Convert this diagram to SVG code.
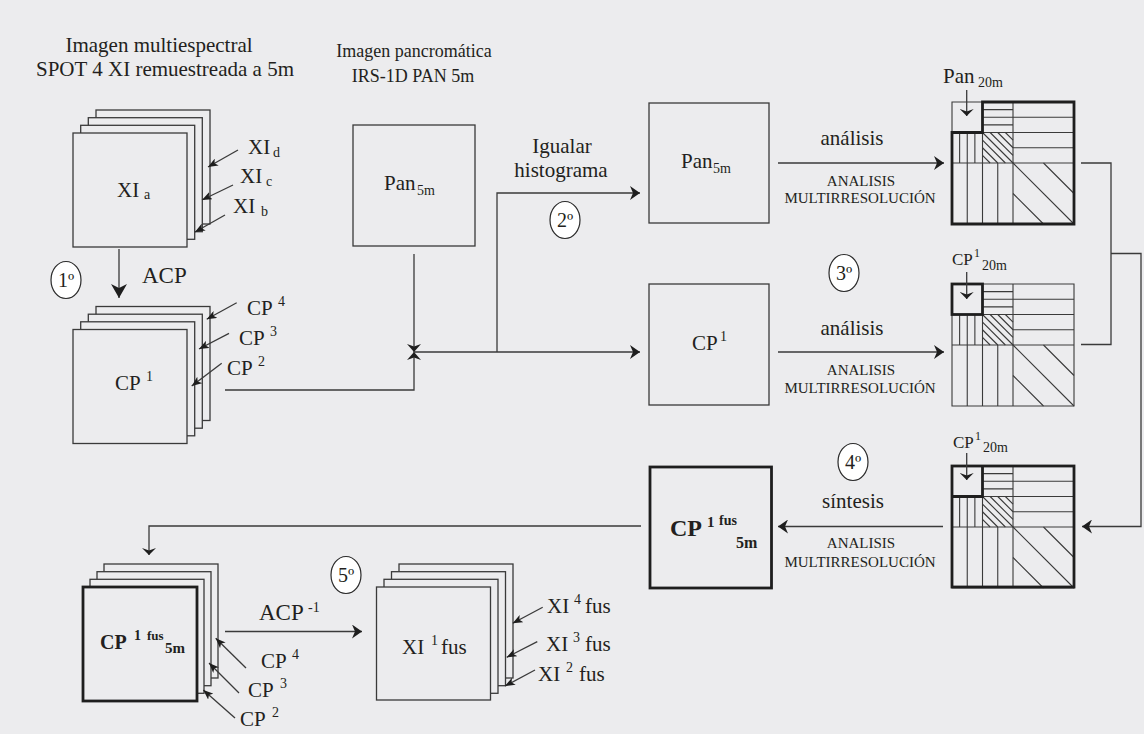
<svg xmlns="http://www.w3.org/2000/svg" xmlns:xlink="http://www.w3.org/1999/xlink" width="1144" height="734" viewBox="0 0 1144 734">
<style>
text{font-family:"Liberation Serif","Times New Roman",serif;fill:#231f20;font-size:21px}
.mid{text-anchor:middle}
.sm{font-size:14px}
.cap{font-size:15px}
.b{font-weight:bold}
.ln{stroke:#3a3a3a;stroke-width:1.3;fill:none}
.box{fill:#ECECEE;stroke:#3a3a3a;stroke-width:1.3}
.bold{stroke:#1e1e1e;stroke-width:2.8;fill:none}
.boldbox{fill:#ECECEE;stroke:#1e1e1e;stroke-width:2.8}
.ell{fill:#FFFFFF;stroke:#2a2a2a;stroke-width:1.2}
.gl{stroke:#3a3a3a;stroke-width:1.1;fill:none}
</style>
<defs>
<marker id="arr" markerUnits="userSpaceOnUse" markerWidth="10" markerHeight="14" refX="10" refY="7" orient="auto" viewBox="0 0 10 14"><path d="M0,0 L10,7 L0,14 L3,7 Z" fill="#1e1e1e"/></marker>
<marker id="big" markerUnits="userSpaceOnUse" markerWidth="14" markerHeight="16" refX="14" refY="8" orient="auto" viewBox="0 0 14 16"><path d="M0,0 L14,8 L0,16 L4,8 Z" fill="#1e1e1e"/></marker>
<marker id="lab" markerUnits="userSpaceOnUse" markerWidth="10" markerHeight="8" refX="10" refY="4" orient="auto" viewBox="0 0 10 8"><path d="M0,0 L10,4 L0,8 L2.5,4 Z" fill="#1e1e1e"/></marker>
<marker id="chev" markerUnits="userSpaceOnUse" markerWidth="7" markerHeight="14" refX="7" refY="7" orient="auto" viewBox="0 0 7 14"><path d="M0,0 L7,7 L0,14 L2.5,7 Z" fill="#1e1e1e"/></marker>
<marker id="jn" markerUnits="userSpaceOnUse" markerWidth="8" markerHeight="14" refX="8" refY="7" orient="auto" viewBox="0 0 8 14"><path d="M0,0 L8,7 L0,14 L2.5,7 Z" fill="#1e1e1e"/></marker>
<g id="grid">
<path class="gl" d="M0,0 H122 V122 H0 Z M61,0 V122 M0,61 H122 M30.5,0 V122 M0,30.5 H122 M30.5,15.25 H122 M30.5,7.625 H61 M30.5,22.875 H61 M61,45.75 H122 M15.25,30.5 V122 M7.625,30.5 V61 M22.875,30.5 V61 M45.75,61 V122"/>
<path class="gl" d="M30.5,30.5 L61,61 M38.125,30.5 L61,53.375 M45.75,30.5 L61,45.75 M53.375,30.5 L61,38.125 M30.5,38.125 L53.375,61 M30.5,45.75 L45.75,61 M30.5,53.375 L38.125,61 M61,61 L122,122 M91.5,61 L122,91.5 M61,91.5 L91.5,122"/>
</g>
</defs>
<rect x="0" y="0" width="1144" height="734" fill="#ECECEE"/>

<g id="title-multiespectral">
<text class="mid" x="159" y="52">Imagen multiespectral</text>
<text class="mid" x="165" y="76">SPOT 4 XI remuestreada a 5m</text>
</g>
<g id="title-pancromatica">
<text class="mid" x="414" y="57" style="font-size:18px">Imagen pancromática</text>
<text class="mid" x="413" y="82" style="font-size:18px">IRS-1D PAN 5m</text>
</g>

<g id="stack-xi">
<rect class="box" x="96" y="110" width="114" height="114"/>
<rect class="box" x="88.3" y="117.7" width="114" height="114"/>
<rect class="box" x="80.7" y="125.3" width="114" height="114"/>
<rect class="box" x="73" y="133" width="114" height="114"/>
<text x="117" y="197">XI<tspan class="sm" x="144" y="199">a</tspan></text>
<text x="248" y="154">XI<tspan class="sm" x="273" y="157">d</tspan></text>
<text x="240" y="183">XI<tspan class="sm" x="266" y="186">c</tspan></text>
<text x="233" y="213">XI<tspan class="sm" x="261" y="216">b</tspan></text>
</g>

<g id="step1">
<ellipse class="ell" cx="66" cy="280" rx="15" ry="18.5"/>
<text class="mid" x="66" y="287" style="font-size:20px">1º</text>
<text x="142" y="283" style="font-size:23px">ACP</text>
</g>

<g id="stack-cp">
<rect class="box" x="96" y="306.5" width="114" height="114"/>
<rect class="box" x="88.3" y="314.2" width="114" height="114"/>
<rect class="box" x="80.7" y="321.8" width="114" height="114"/>
<rect class="box" x="73" y="329.5" width="114" height="114"/>
<text x="115" y="390">CP<tspan class="sm" x="146" y="381">1</tspan></text>
<text x="247" y="315">CP<tspan class="sm" x="278" y="306">4</tspan></text>
<text x="239" y="345">CP<tspan class="sm" x="270" y="336">3</tspan></text>
<text x="227" y="375">CP<tspan class="sm" x="258" y="366">2</tspan></text>
</g>

<g id="pan-left">
<rect class="box" x="353" y="125" width="122" height="121"/>
<text x="384" y="190">Pan<tspan class="sm" x="417" y="195">5m</tspan></text>
</g>

<g id="step2">
<text class="mid" x="562" y="153">Igualar</text>
<text class="mid" x="561" y="177">histograma</text>
<ellipse class="ell" cx="565" cy="220" rx="15" ry="18.5"/>
<text class="mid" x="565" y="227" style="font-size:20px">2º</text>
</g>

<g id="pan-right">
<rect class="box" x="649" y="103" width="120" height="120"/>
<text x="681" y="168">Pan<tspan class="sm" x="713" y="173">5m</tspan></text>
</g>

<g id="cp1-right">
<rect class="box" x="649" y="284" width="120" height="121"/>
<text x="692" y="350">CP<tspan class="sm" x="720" y="341">1</tspan></text>
</g>

<g id="analysis-labels">
<text class="mid" x="852" y="145">análisis</text>
<text class="mid cap" x="861" y="186">ANALISIS</text>
<text class="mid cap" x="860" y="203">MULTIRRESOLUCIÓN</text>
<ellipse class="ell" cx="844" cy="273" rx="15" ry="18.5"/>
<text class="mid" x="844" y="280" style="font-size:20px">3º</text>
<text class="mid" x="852" y="335">análisis</text>
<text class="mid cap" x="861" y="375">ANALISIS</text>
<text class="mid cap" x="860" y="393">MULTIRRESOLUCIÓN</text>
</g>

<g id="grid-pan20m">
<use xlink:href="#grid" href="#grid" x="952" y="102"/>
<path class="bold" d="M982.5,102 H1074 V224 H952 V132.5 H982.5 Z"/>
<text x="943" y="83">Pan<tspan class="sm" x="978" y="87">20m</tspan></text>
</g>

<g id="grid-cp1-20m">
<use xlink:href="#grid" href="#grid" x="952" y="284"/>
<rect class="bold" x="952" y="284" width="30.5" height="30.5"/>
<text x="952" y="265" style="font-size:17px">CP<tspan class="sm" x="974" y="257" style="font-size:12px">1</tspan><tspan class="sm" x="982" y="270">20m</tspan></text>
</g>

<g id="grid-synthesis">
<use xlink:href="#grid" href="#grid" x="952" y="466"/>
<rect class="bold" x="952" y="466" width="122" height="121"/>
<path class="bold" d="M982.5,466 V496.5 H952"/>
<text x="953" y="448" style="font-size:17px">CP<tspan class="sm" x="975" y="440" style="font-size:12px">1</tspan><tspan class="sm" x="983" y="452">20m</tspan></text>
</g>

<g id="step4">
<ellipse class="ell" cx="853" cy="462" rx="15" ry="18.5"/>
<text class="mid" x="853" y="469" style="font-size:20px">4º</text>
<text class="mid" x="853" y="508">síntesis</text>
<text class="mid cap" x="861" y="548">ANALISIS</text>
<text class="mid cap" x="860" y="567">MULTIRRESOLUCIÓN</text>
</g>

<g id="cp1-fus">
<rect class="boldbox" x="650" y="467" width="121.5" height="121"/>
<text class="b" x="670" y="536" style="font-size:24px">CP<tspan x="707" y="527" style="font-size:15px">1</tspan><tspan x="719" y="525" style="font-size:14px">fus</tspan><tspan x="736" y="548" style="font-size:16px">5m</tspan></text>
</g>

<g id="stack-cp-fus">
<rect class="box" x="104" y="564" width="114" height="114"/>
<rect class="box" x="97" y="571.7" width="114" height="114"/>
<rect class="box" x="90" y="579.3" width="114" height="114"/>
<rect class="boldbox" x="83" y="587" width="114" height="114"/>
<text class="b" x="100" y="649" style="font-size:20px">CP<tspan x="134" y="640" style="font-size:14px">1</tspan><tspan x="147" y="640" style="font-size:13px">fus</tspan><tspan x="165" y="653" style="font-size:15px">5m</tspan></text>
<text x="261" y="668">CP<tspan class="sm" x="292" y="659">4</tspan></text>
<text x="248" y="697">CP<tspan class="sm" x="280" y="688">3</tspan></text>
<text x="240" y="726">CP<tspan class="sm" x="272" y="717">2</tspan></text>
</g>

<g id="step5">
<ellipse class="ell" cx="346" cy="575" rx="15" ry="18.5"/>
<text class="mid" x="346" y="582" style="font-size:20px">5º</text>
<text x="259" y="620" style="font-size:23px">ACP<tspan class="sm" x="308" y="612">-1</tspan></text>
</g>

<g id="stack-xi-fus">
<rect class="box" x="399" y="564" width="114" height="114"/>
<rect class="box" x="391.5" y="571.7" width="114" height="114"/>
<rect class="box" x="384" y="579.3" width="114" height="114"/>
<rect class="box" x="376.5" y="587" width="114" height="113"/>
<text x="402" y="654">XI<tspan class="sm" x="431" y="645">1</tspan><tspan x="441" y="654">fus</tspan></text>
<text x="547" y="613">XI<tspan class="sm" x="574" y="604">4</tspan><tspan x="585" y="613">fus</tspan></text>
<text x="546" y="651">XI<tspan class="sm" x="573" y="642">3</tspan><tspan x="585" y="651">fus</tspan></text>
<text x="538" y="681">XI<tspan class="sm" x="566" y="672">2</tspan><tspan x="579" y="681">fus</tspan></text>
</g>

<g id="connectors">
<line class="ln" x1="119" y1="249" x2="119" y2="298" marker-end="url(#big)"/>
<line class="ln" x1="238" y1="150" x2="208" y2="167" marker-end="url(#lab)"/>
<line class="ln" x1="233" y1="185" x2="202" y2="200" marker-end="url(#lab)"/>
<line class="ln" x1="225" y1="215" x2="195" y2="232" marker-end="url(#lab)"/>
<line class="ln" x1="236.7" y1="302.7" x2="206.7" y2="319.3" marker-end="url(#lab)"/>
<line class="ln" x1="229" y1="333.3" x2="199" y2="349" marker-end="url(#lab)"/>
<line class="ln" x1="221.7" y1="363.3" x2="191.7" y2="386" marker-end="url(#lab)"/>
<polyline class="ln" points="225,390 414,390 414,352" marker-end="url(#jn)"/>
<line class="ln" x1="414" y1="254" x2="414" y2="352" marker-end="url(#jn)"/>
<line class="ln" x1="414" y1="352" x2="640" y2="352" marker-end="url(#arr)"/>
<polyline class="ln" points="497,352 497,193 640,193" marker-end="url(#arr)"/>
<line class="ln" x1="778" y1="163" x2="944" y2="163" marker-end="url(#arr)"/>
<line class="ln" x1="778" y1="352" x2="944" y2="352" marker-end="url(#arr)"/>
<line class="ln" x1="966.7" y1="90" x2="966.7" y2="116" marker-end="url(#chev)"/>
<line class="ln" x1="966.7" y1="272" x2="966.7" y2="299" marker-end="url(#chev)"/>
<line class="ln" x1="966.7" y1="453" x2="966.7" y2="480" marker-end="url(#chev)"/>
<polyline class="ln" points="1081,163 1111,163 1111,344.5 1081,344.5"/>
<polyline class="ln" points="1111,253.5 1141,253.5 1141,526.5 1082,526.5" marker-end="url(#arr)"/>
<line class="ln" x1="943" y1="526.5" x2="778" y2="526.5" marker-end="url(#arr)"/>
<polyline class="ln" points="641,526 149,526 149,555" marker-end="url(#chev)"/>
<line class="ln" x1="225" y1="631.5" x2="362" y2="631.5" marker-end="url(#arr)"/>
<line class="ln" x1="246" y1="668" x2="215.7" y2="638.3" marker-end="url(#lab)"/>
<line class="ln" x1="239" y1="693" x2="209" y2="663" marker-end="url(#lab)"/>
<line class="ln" x1="235" y1="718" x2="203.3" y2="690" marker-end="url(#lab)"/>
<line class="ln" x1="542.7" y1="607.3" x2="512.7" y2="623.3" marker-end="url(#lab)"/>
<line class="ln" x1="537.3" y1="641.7" x2="506.7" y2="657.3" marker-end="url(#lab)"/>
<line class="ln" x1="535" y1="670" x2="505" y2="686" marker-end="url(#lab)"/>
</g>
</svg>
